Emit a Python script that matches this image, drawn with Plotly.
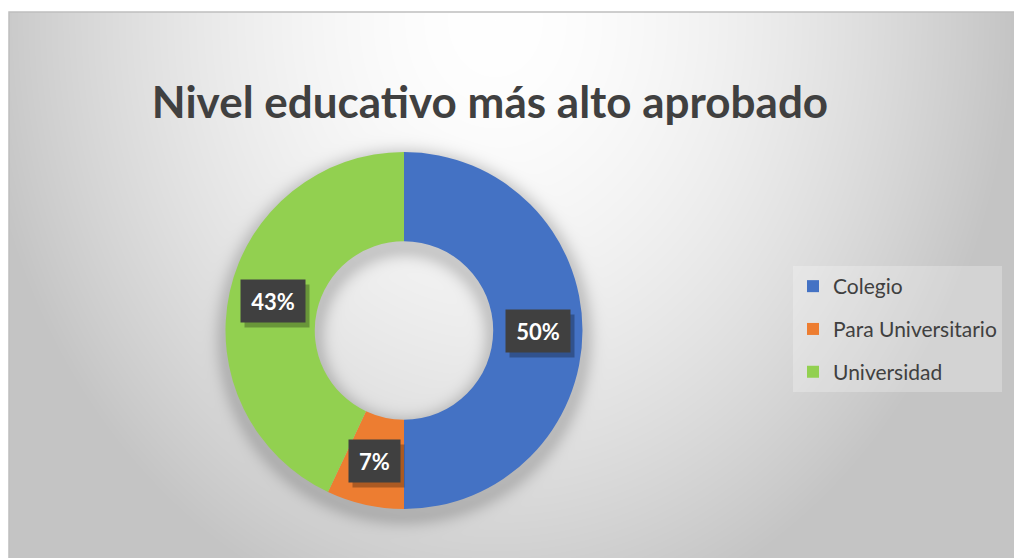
import base64
import struct
import zlib

import numpy as np
import plotly.graph_objects as go

# data
labels = ["Colegio", "Para Universitario", "Universidad"]
values = [50, 7, 43]
colors = ["#4472C4", "#ED7D31", "#92D050"]
title_text = "Nivel educativo más alto aprobado"

W, H = 1014, 558
FX0, FY0 = 9, 12                       # chart frame top-left (px)
CX, CY, R_OUT, HOLE = 404, 330.5, 178.5, 0.5   # donut geometry (px)
R_IN = R_OUT * HOLE


def png_uri(gray):
    """Encode a 2D uint8 array as a grayscale PNG data URI."""
    h, w = gray.shape
    raw = np.hstack([np.zeros((h, 1), np.uint8), gray]).tobytes()

    def chunk(tag, data):
        out = struct.pack(">I", len(data)) + tag + data
        return out + struct.pack(">I", zlib.crc32(tag + data) & 0xFFFFFFFF)

    png = (b"\x89PNG\r\n\x1a\n"
           + chunk(b"IHDR", struct.pack(">IIBBBBB", w, h, 8, 0, 0, 0, 0))
           + chunk(b"IDAT", zlib.compress(raw, 9))
           + chunk(b"IEND", b""))
    return "data:image/png;base64," + base64.b64encode(png).decode()


def background():
    # radial grey gradient (white at top centre) + soft shadow of the ring
    bw, bh = W - FX0, H - FY0
    yy, xx = np.mgrid[0:bh, 0:bw].astype(float)
    xx += FX0
    yy += FY0
    d = np.sqrt(((xx - 495) / 510) ** 2 + ((yy - 20) / 610) ** 2)
    g = 255 - 57 * np.minimum(d, 1.02) ** 1.7

    r = np.hypot(xx - CX, yy - (CY + 6))
    e = np.maximum(np.maximum(r - R_OUT, R_IN - r), 0)
    shade = np.exp(-(e / 12) ** 2)
    g = g * (1 - 0.17 * shade)
    return png_uri(np.clip(g, 0, 255).astype(np.uint8))


fig = go.Figure()

fig.add_trace(go.Pie(
    labels=labels,
    values=values,
    marker=dict(colors=colors, line=dict(width=0)),
    hole=HOLE,
    sort=False,
    direction="clockwise",
    rotation=0,
    textinfo="none",
    hoverinfo="label+percent",
    showlegend=False,
    domain=dict(x=[(CX - R_OUT) / W, (CX + R_OUT) / W],
                y=[1 - (CY + R_OUT) / H, 1 - (CY - R_OUT) / H]),
))

# legend entries (one group each so the spacing can be set)
for lab, col in zip(labels, colors):
    fig.add_trace(go.Scatter(
        x=[None], y=[None], mode="markers", name=lab, legendgroup=lab,
        marker=dict(symbol="square", size=12, color=col),
    ))

# percentage labels in dark boxes at the middle of each slice
total = sum(values)
r_mid = (R_OUT + R_IN) / 2
cum = 0
for v in values:
    ang = 2 * np.pi * (cum + v / 2) / total
    cum += v
    px = (CX + r_mid * np.sin(ang)) / W
    py = 1 - (CY - r_mid * np.cos(ang)) / H
    txt = f"{round(v / total * 100)}%"
    bw = 13 * len(txt) + 23
    common = dict(x=px, y=py, xref="paper", yref="paper", showarrow=False,
                  xanchor="center", yanchor="middle", width=bw, height=40)
    fig.add_annotation(text="", bgcolor="rgba(0,0,0,0.28)",
                       xshift=4, yshift=-5, **common)
    fig.add_annotation(text=f"<b>{txt}</b>", bgcolor="#404040",
                       font=dict(family="Lato", size=22, color="white"),
                       **common)

# chart frame
fig.add_shape(type="rect", xref="paper", yref="paper",
              x0=FX0 / W, x1=1.02, y0=-0.02, y1=1 - FY0 / H,
              line=dict(color="#BFBFBF", width=1.5), layer="above")

fig.add_layout_image(
    source=background(), xref="paper", yref="paper",
    x=FX0 / W, y=1 - FY0 / H, sizex=1 - FX0 / W, sizey=1 - FY0 / H,
    xanchor="left", yanchor="top", sizing="stretch", layer="below",
)

fig.update_layout(
    width=W,
    height=H,
    margin=dict(l=0, r=0, t=0, b=0),
    paper_bgcolor="white",
    plot_bgcolor="rgba(0,0,0,0)",
    font=dict(family="Lato", color="#595959"),
    title=dict(text=f"<b>{title_text}</b>", x=490 / W, xanchor="center",
               y=1 - 103 / H, yanchor="middle",
               font=dict(family="Lato", size=44, color="#404040")),
    xaxis=dict(visible=False, fixedrange=True),
    yaxis=dict(visible=False, fixedrange=True),
    legend=dict(x=793 / W, y=1 - 266 / H, xanchor="left", yanchor="top",
                bgcolor="rgba(255,255,255,0.25)", font=dict(size=21, color="#404040"),
                tracegroupgap=12.5, itemwidth=30),
)

fig.write_html("out.html", config={"displayModeBar": False},
               post_script="document.body.style.margin='0';")
